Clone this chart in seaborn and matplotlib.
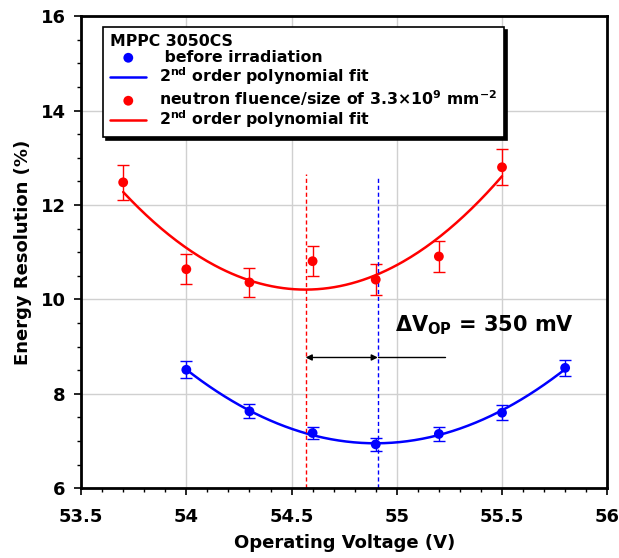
import numpy as np
import pandas as pd
import matplotlib
matplotlib.use("Agg")
import matplotlib.pyplot as plt
import seaborn as sns
from matplotlib.ticker import MultipleLocator

# Данные
volt_before = [54.0, 54.3, 54.6, 54.9, 55.2, 55.5, 55.8]
res_before = [8.51, 7.63, 7.17, 6.93, 7.15, 7.60, 8.55]
err_before = [0.18, 0.15, 0.13, 0.14, 0.14, 0.16, 0.17]

volt_irr = [53.7, 54.0, 54.3, 54.6, 54.9, 55.2, 55.5]
res_irr = [12.48, 10.64, 10.36, 10.81, 10.42, 10.91, 12.80]
err_irr = [0.37, 0.32, 0.31, 0.32, 0.33, 0.33, 0.38]

vop_irr = 54.567
vop_before = 54.91

sns.set_style("ticks")
plt.rcParams["font.family"] = ["DejaVu Sans"]
plt.rcParams["font.weight"] = "bold"
plt.rcParams["mathtext.default"] = "bf"
plt.rcParams["text.color"] = "black"
plt.rcParams["axes.labelcolor"] = "black"
plt.rcParams["xtick.color"] = "black"
plt.rcParams["ytick.color"] = "black"

fig = plt.figure(figsize=(6.19, 5.58), dpi=100)
ax = fig.add_axes([0.131, 0.125, 0.850, 0.846])

df_b = pd.DataFrame({"V": volt_before, "R": res_before})
df_i = pd.DataFrame({"V": volt_irr, "R": res_irr})

# полиномиальные фиты 2-го порядка
xb = np.linspace(min(volt_before), max(volt_before), 200)
xi = np.linspace(min(volt_irr), max(volt_irr), 200)
fit_b = pd.DataFrame({"V": xb, "R": np.polyval(np.polyfit(volt_before, res_before, 2), xb)})
fit_i = pd.DataFrame({"V": xi, "R": np.polyval(np.polyfit(volt_irr, res_irr, 2), xi)})

ax.errorbar(volt_before, res_before, yerr=err_before, fmt="none", ecolor="blue", elinewidth=1, capsize=4)
ax.errorbar(volt_irr, res_irr, yerr=err_irr, fmt="none", ecolor="red", elinewidth=1, capsize=4)

sns.scatterplot(data=df_b, x="V", y="R", ax=ax, color="blue", s=50, edgecolor="none",
                label=" before irradiation", zorder=3)
sns.lineplot(data=fit_b, x="V", y="R", ax=ax, color="blue", lw=1.8,
             label=r"2$^{nd}$ order polynomial fit")
sns.scatterplot(data=df_i, x="V", y="R", ax=ax, color="red", s=50, edgecolor="none",
                label=r"neutron fluence/size of 3.3$\times$10$^{9}$ mm$^{-2}$", zorder=3)
sns.lineplot(data=fit_i, x="V", y="R", ax=ax, color="red", lw=1.8,
             label=r"2$^{nd}$ order polynomial fit")

# вертикальные линии V_op
ax.plot([vop_irr, vop_irr], [6, 12.65], color="red", ls=(0, (3, 2)), lw=1)
ax.plot([vop_before, vop_before], [6, 12.6], color="blue", ls=(0, (3, 2)), lw=1)

# стрелка ΔV_op
ax.annotate("", xy=(vop_irr, 8.77), xytext=(vop_before, 8.77),
            arrowprops=dict(arrowstyle="<|-|>", color="black", lw=1, mutation_scale=9,
                            shrinkA=0, shrinkB=0))
ax.plot([vop_before, 55.23], [8.77, 8.77], color="black", lw=1)
ax.text(54.99, 9.45, r"$\Delta$V$_{OP}$ = 350 mV", fontsize=15, fontweight="bold", va="center")

ax.set_xlim(53.5, 56)
ax.set_ylim(6, 16)
ax.xaxis.set_major_locator(MultipleLocator(0.5))
ax.xaxis.set_minor_locator(MultipleLocator(0.1))
ax.yaxis.set_major_locator(MultipleLocator(2))
ax.yaxis.set_minor_locator(MultipleLocator(0.5))
ax.set_xticks([53.5, 54, 54.5, 55, 55.5, 56])
ax.set_xticklabels(["53.5", "54", "54.5", "55", "55.5", "56"])
ax.grid(True, which="major", color="#d0d0d0", lw=1)
ax.set_axisbelow(True)
ax.tick_params(axis="both", which="major", labelsize=13, length=5, width=1.2, direction="out")
ax.tick_params(axis="x", which="major", pad=9)
ax.tick_params(axis="y", which="major", pad=6)
ax.tick_params(axis="both", which="minor", length=3, width=1, direction="out")
for lab in ax.get_xticklabels() + ax.get_yticklabels():
    lab.set_fontweight("bold")
for sp in ax.spines.values():
    sp.set_linewidth(2)
    sp.set_color("black")

ax.set_xlabel("Operating Voltage (V)", fontsize=13, fontweight="bold", labelpad=6)
ax.set_ylabel("Energy Resolution (%)", fontsize=13, fontweight="bold", labelpad=6)

leg = ax.legend(loc="upper left", bbox_to_anchor=(0.042, 0.977), title="MPPC 3050CS",
                frameon=True, fancybox=False, shadow={"color": "black", "alpha": 1},
                edgecolor="black", fontsize=11.3, title_fontsize=11.3, alignment="left",
                handlelength=2.3, borderpad=0.45, labelspacing=0.05, borderaxespad=0)
leg.get_title().set_fontweight("bold")
for t in leg.get_texts():
    t.set_fontweight("bold")
leg.get_frame().set_linewidth(1.2)
leg.get_frame().set_alpha(1)

fig.savefig("out.png", dpi=100)
